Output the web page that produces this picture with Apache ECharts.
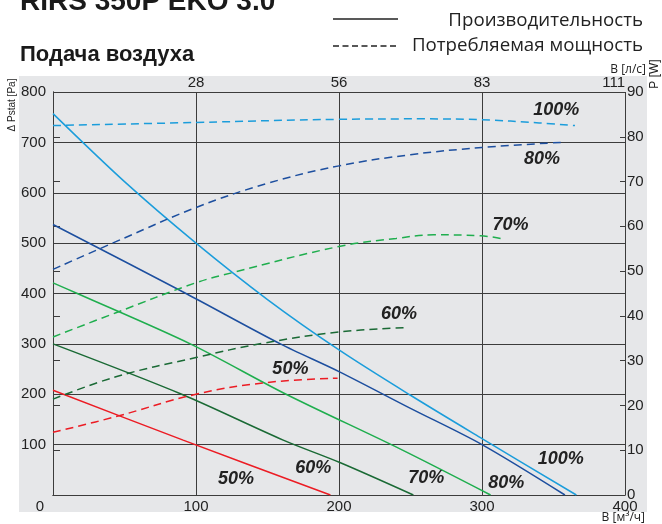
<!DOCTYPE html>
<html><head><meta charset="utf-8">
<script src="https://cdn.jsdelivr.net/npm/echarts@6/dist/echarts.min.js"></script>
<style>html,body{margin:0;padding:0;background:#fff}#c{width:662px;height:524px}</style>
</head><body><div id="c"></div>
<script>
// ---- data (flow in m3/h, pressure in Pa, power in W) ----
const xTicks = [0, 100, 200, 300, 400];
const topTickLabels = ['', '28', '56', '83', '111'];
const perfNames = ['100%', '80%', '70%', '60%', '50%'];
const perf100 = [[0,757],[50,622],[100,500],[150,388],[200,288],[250,198],[300,112],[366,0]];
const perf80  = [[0,537],[93,400],[159,300],[200,245],[250,172],[300,100],[358,0]];
const perf70  = [[0,421],[17,400],[96,300],[163,200],[243,91],[306,0]];
const perf60  = [[0,300],[90,200],[161,109],[201,64],[252,0]];
const perf50  = [[0,208],[91,109],[194,0]];
const pow100 = [[0,82.5],[100,83.2],[200,83.9],[260,84.0],[300,83.8],[340,83.1],[365,82.5]];
const pow80  = [[0,50.4],[50,57.4],[100,64.2],[150,69.6],[200,73.5],[250,76.0],[300,77.6],[358,78.8]];
const pow70  = [[0,35.3],[44,40.7],[100,47.4],[126,49.7],[200,55.5],[240,57.3],[266,58.1],[299,57.9],[313,57.3]];
const pow60  = [[0,21.4],[44,26.4],[100,30.7],[147,33.9],[200,36.4],[247,37.4]];
const pow50  = [[0,14.0],[44,17.5],[100,22.5],[149,25.1],[199,26.1]];
const curveLabels = [
  [352,764,'100%'],[342,667,'80%'],[320,536,'70%'],[242,359,'60%'],[166,250,'50%'],
  [128,32,'50%'],[182,54,'60%'],[261,34,'70%'],[317,24,'80%'],[355,71,'100%']
];
const colors = ['#1b9ddb', '#1d4f9f', '#1fae4e', '#1a6a35', '#ec1c24'];

const perfSets = [perf100, perf80, perf70, perf60, perf50];
const powSets = [pow100, pow80, pow70, pow60, pow50];

const chart = echarts.init(document.getElementById('c'), null, {renderer:'canvas'});
const gridCol = '#3c3c3c';
const lab = {color:'#222', fontSize:15, fontFamily:'Liberation Sans, Arial, sans-serif'};

const series = [];
perfSets.forEach((d, i) => series.push({
  name: perfNames[i] + ' P', type:'line', data:d, xAxisIndex:0, yAxisIndex:0,
  symbol:'none', smooth:0.3, lineStyle:{color:colors[i], width:1.5}, z:3
}));
powSets.forEach((d, i) => series.push({
  name: perfNames[i] + ' W', type:'line', data:d, xAxisIndex:0, yAxisIndex:1,
  symbol:'none', smooth:0.4, lineStyle:{color:colors[i], width:1.5, type:[8,5]}, z:3
}));
series.push({
  type:'scatter', data:curveLabels, xAxisIndex:0, yAxisIndex:0, symbolSize:1,
  itemStyle:{color:'rgba(0,0,0,0)'}, z:4,
  label:{show:true, position:'inside', formatter:p => p.value[2], color:'#222',
    textBorderWidth:0, opacity:1,
    fontSize:18, fontWeight:'bold', fontStyle:'italic', fontFamily:'Liberation Sans, Arial, sans-serif'}
});

const option = {
  animation:false,
  grid:{left:53, right:37, top:92, bottom:29, containLabel:false},
  xAxis:[
    {type:'value', position:'bottom', min:0, max:400, interval:100,
     axisLine:{show:true, lineStyle:{color:gridCol, width:1}}, axisTick:{show:false},
     splitLine:{show:true, lineStyle:{color:gridCol, width:1}},
     axisLabel:Object.assign({}, lab, {margin:4,
       formatter:v => v === 0 ? '{z|0}' : String(v),
       rich:{z:{color:'#222', fontSize:15, fontFamily:'Liberation Sans, Arial, sans-serif', padding:[0,26,0,0]}}})},
    {type:'value', position:'top', min:0, max:400, interval:100,
     axisLine:{show:true, lineStyle:{color:gridCol, width:1}}, axisTick:{show:false}, splitLine:{show:false},
     axisLabel:Object.assign({}, lab, {margin:2, showMinLabel:false, alignMaxLabel:'right',
       formatter:v => topTickLabels[xTicks.indexOf(v)]})}
  ],
  yAxis:[
    {type:'value', position:'left', min:0, max:800, interval:100,
     axisLine:{show:true, lineStyle:{color:gridCol, width:1}}, axisTick:{show:false},
     splitLine:{show:true, lineStyle:{color:gridCol, width:1}},
     axisLabel:Object.assign({}, lab, {margin:7, showMinLabel:false})},
    {type:'value', position:'right', min:0, max:90, interval:10,
     axisLine:{show:true, lineStyle:{color:gridCol, width:1}},
     axisTick:{show:true, inside:false, length:7, lineStyle:{color:gridCol}},
     splitLine:{show:false}, axisLabel:Object.assign({}, lab, {margin:2, fontSize:15})},
    {type:'value', position:'right', min:0, max:90, interval:10,
     axisLine:{show:false}, axisTick:{show:true, inside:true, length:5, lineStyle:{color:gridCol}},
     splitLine:{show:false}, axisLabel:{show:false}}
  ],
  graphic:[
    {type:'rect', z:-100, shape:{x:19, y:76, width:628, height:436}, style:{fill:'#e6e7e9'}},
    {type:'text', x:20, y:2, style:{text:'RIRS 350P EKO 3.0', fontSize:28, fontWeight:'bold',
      fontFamily:'Liberation Sans, Arial, sans-serif', fill:'#1a1a1a', align:'left', verticalAlign:'middle'}},
    {type:'text', x:20, y:55, style:{text:'Подача воздуха', fontSize:22, fontWeight:'bold',
      fontFamily:'Liberation Sans, Arial, sans-serif', fill:'#1a1a1a', align:'left', verticalAlign:'middle'}},
    {type:'line', shape:{x1:333, y1:19, x2:398, y2:19}, style:{stroke:'#222', lineWidth:1.5}},
    {type:'line', shape:{x1:333, y1:46, x2:398, y2:46}, style:{stroke:'#222', lineWidth:1.5, lineDash:[6,3.5]}},
    {type:'text', x:643, y:21, style:{text:'Производительность', fontSize:18.7,
      fontFamily:'Open Sans, sans-serif', fill:'#222', align:'right', verticalAlign:'middle'}},
    {type:'text', x:643, y:46, style:{text:'Потребляемая мощность', fontSize:18.7,
      fontFamily:'Open Sans, sans-serif', fill:'#222', align:'right', verticalAlign:'middle'}},
    {type:'text', x:646, y:70, style:{text:'В [л/с]', fontSize:12,
      fontFamily:'Open Sans, sans-serif', fill:'#222', align:'right', verticalAlign:'middle'}},
    {type:'text', x:645, y:518, style:{text:'В [м³/ч]', fontSize:12,
      fontFamily:'Open Sans, sans-serif', fill:'#222', align:'right', verticalAlign:'middle'}},
    {type:'text', x:655, y:74, rotation:Math.PI/2, style:{text:'P [W]', fontSize:12,
      fontFamily:'Liberation Sans, Arial, sans-serif', fill:'#222', align:'center', verticalAlign:'middle'}},
    {type:'text', x:12, y:105, rotation:Math.PI/2, style:{text:'Δ Pstat [Pa]', fontSize:10,
      fontFamily:'Liberation Sans, Arial, sans-serif', fill:'#222', align:'center', verticalAlign:'middle'}}
  ],
  series: series
};
chart.setOption(option);
</script></body></html>
